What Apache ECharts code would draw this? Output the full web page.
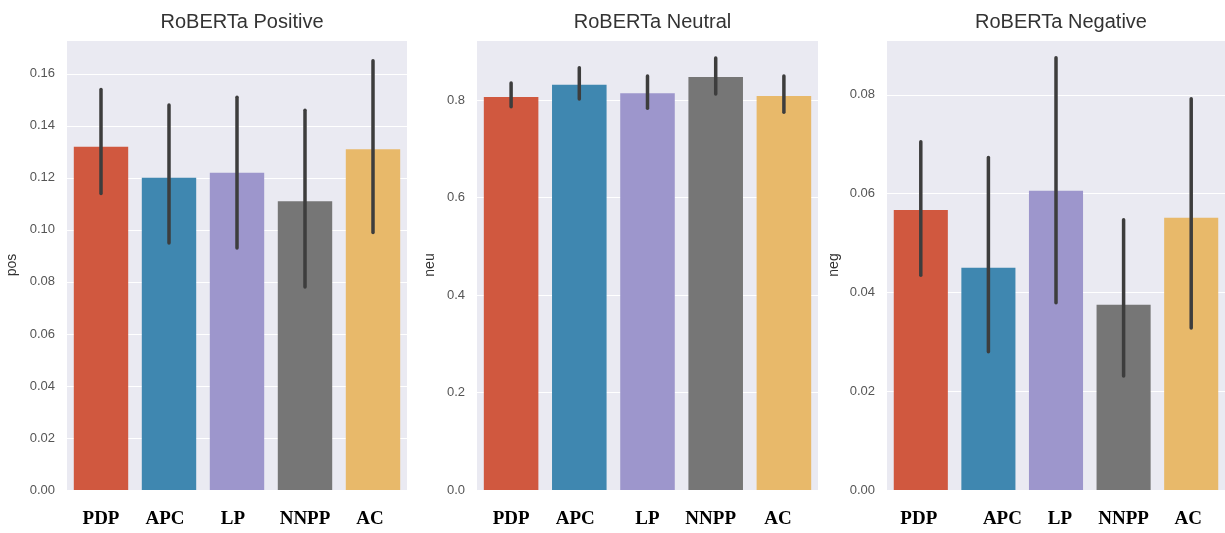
<!DOCTYPE html>
<html>
<head>
<meta charset="utf-8">
<script src="https://cdn.jsdelivr.net/npm/echarts@6/dist/echarts.min.js"></script>
<style>
  html, body { margin: 0; padding: 0; background: #fff; }
  #main { width: 1225px; height: 533px; }
</style>
</head>
<body>
<div id="main"></div>
<script>
// categories
const models = ['PDP', 'APC', 'LP', 'NNPP', 'AC'];

// RoBERTa positive
const posMean = [0.132, 0.120, 0.122, 0.111, 0.131];
const posLow  = [0.114, 0.095, 0.093, 0.078, 0.099];
const posHigh = [0.154, 0.148, 0.151, 0.146, 0.165];

// RoBERTa neutral
const neuMean = [0.806, 0.831, 0.814, 0.847, 0.808];
const neuLow  = [0.786, 0.802, 0.783, 0.812, 0.775];
const neuHigh = [0.835, 0.866, 0.849, 0.886, 0.849];

// RoBERTa negative
const negMean = [0.0567, 0.0450, 0.0606, 0.0375, 0.0551];
const negLow  = [0.0435, 0.0280, 0.0379, 0.0231, 0.0328];
const negHigh = [0.0705, 0.0673, 0.0875, 0.0547, 0.0792];

const palette = ['#d0583f', '#3f87b0', '#9d96cc', '#767676', '#e8b96a'];

let myChart = echarts.init(document.getElementById('main'));

// 子图配置 (shift = x 轴标签的水平偏移)
const panels = [
  { title: 'RoBERTa Positive', name: 'pos', mean: posMean, low: posLow, high: posHigh,
    max: 0.173, interval: 0.02, digits: 2, left: 67, width: 340, nameGap: 48,
    shift: [0, -4, -4, 0, -3] },
  { title: 'RoBERTa Neutral', name: 'neu', mean: neuMean, low: neuLow, high: neuHigh,
    max: 0.923, interval: 0.2, digits: 1, left: 477, width: 341, nameGap: 40,
    shift: [0, -4, 0, -5, -6] },
  { title: 'RoBERTa Negative', name: 'neg', mean: negMean, low: negLow, high: negHigh,
    max: 0.0911, interval: 0.02, digits: 2, left: 887, width: 338, nameGap: 46,
    shift: [-2, 14, 4, 0, -3] }
];

let option = {
  animation: false,
  title: [],
  grid: [],
  xAxis: [],
  yAxis: [],
  series: []
};

panels.forEach((p, i) => {
  option.title.push({
    text: p.title,
    left: p.left + p.width / 2,
    top: 7,
    textAlign: 'center',
    textStyle: { fontFamily: 'Liberation Sans', fontWeight: 'normal', fontSize: 20, color: '#333' }
  });
  option.grid.push({ left: p.left, width: p.width, top: 40, bottom: 43, show: true, backgroundColor: '#eaeaf2', borderWidth: 0 });
  option.xAxis.push({
    type: 'category',
    gridIndex: i,
    data: models.map((m, k) => {
      let s = p.shift[k];
      return {
        value: m,
        textStyle: { padding: s >= 0 ? [0, 0, 0, 2 * s] : [0, -2 * s, 0, 0] }
      };
    }),
    axisLine: { show: false },
    axisTick: { show: false },
    axisLabel: {
      margin: 20,
      color: '#000',
      fontFamily: 'Liberation Serif',
      fontWeight: 'bold',
      fontSize: 19
    }
  });
  option.yAxis.push({
    type: 'value',
    gridIndex: i,
    min: 0,
    max: p.max,
    interval: p.interval,
    name: p.name,
    nameLocation: 'middle',
    nameGap: p.nameGap,
    nameRotate: 90,
    nameTextStyle: { fontFamily: 'Liberation Sans', fontSize: 14, color: '#333' },
    axisLine: { show: false },
    axisTick: { show: false },
    axisLabel: {
      margin: 12,
      color: '#555',
      fontFamily: 'Liberation Sans',
      fontSize: 13,
      showMaxLabel: false,
      formatter: v => v.toFixed(p.digits)
    },
    splitLine: { show: true, lineStyle: { color: '#fff', width: 1 } }
  });
  option.series.push({
    type: 'bar',
    xAxisIndex: i,
    yAxisIndex: i,
    barCategoryGap: '20%',
    itemStyle: { color: params => palette[params.dataIndex] },
    data: p.mean
  });
  // 误差线
  option.series.push({
    type: 'custom',
    xAxisIndex: i,
    yAxisIndex: i,
    z: 5,
    renderItem: function (params, api) {
      let lo = api.coord([api.value(0), api.value(1)]);
      let hi = api.coord([api.value(0), api.value(2)]);
      return {
        type: 'line',
        shape: { x1: lo[0], y1: lo[1], x2: hi[0], y2: hi[1] },
        style: { stroke: '#3d3d3d', lineWidth: 3.5, lineCap: 'round' }
      };
    },
    data: models.map((m, k) => [k, p.low[k], p.high[k]])
  });
});

myChart.setOption(option);
</script>
</body>
</html>
